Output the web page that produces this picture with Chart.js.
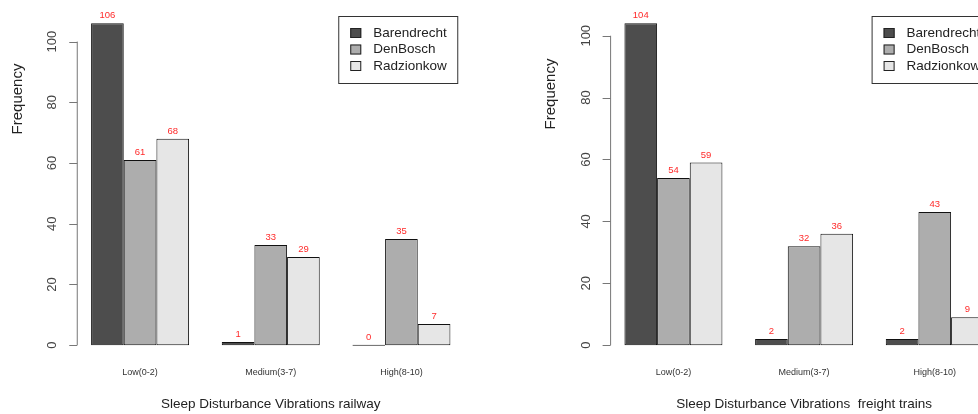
<!DOCTYPE html>
<html>
<head>
<meta charset="utf-8">
<script src="https://cdn.jsdelivr.net/npm/chart.js@4/dist/chart.umd.min.js"></script>
<style>
  html, body { margin: 0; padding: 0; background: #fff; }
  #wrap { position: relative; width: 978px; height: 414px; overflow: hidden; }
  #c1 { position: absolute; left: 0; top: 0; }
  #c2 { position: absolute; left: 489px; top: 0; }
</style>
</head>
<body>
<div id="wrap">
  <canvas id="c1" width="489" height="414"></canvas>
  <canvas id="c2" width="540" height="414"></canvas>
</div>
<script>
const categories = ['Low(0-2)', 'Medium(3-7)', 'High(8-10)'];
const towns = ['Barendrecht', 'DenBosch', 'Radzionkow'];
const townColors = ['#4d4d4d', '#adadad', '#e6e6e6'];
const yTicks = [0, 20, 40, 60, 80, 100];

// railway
const railBarendrecht = [106, 1, 0];
const railDenBosch = [61, 33, 35];
const railRadzionkow = [68, 29, 7];

// freight trains
const freightBarendrecht = [104, 2, 2];
const freightDenBosch = [54, 32, 43];
const freightRadzionkow = [59, 36, 9];

const FONT = '"Liberation Sans", Arial, sans-serif';

// R-style axis, labels, legend and value labels
const rStyle = {
  id: 'rStyle',
  afterDatasetsDraw(chart) {
    const ctx = chart.ctx;
    const y = chart.scales.y;
    const ca = chart.chartArea;
    const axisX = ca.left + 2;

    ctx.save();
    // y axis line and ticks
    ctx.strokeStyle = '#777';
    ctx.lineWidth = 1;
    ctx.beginPath();
    ctx.moveTo(axisX + 0.5, y.getPixelForValue(yTicks[0]));
    ctx.lineTo(axisX + 0.5, y.getPixelForValue(yTicks[yTicks.length - 1]));
    yTicks.forEach(t => {
      const py = Math.round(y.getPixelForValue(t)) + 0.5;
      ctx.moveTo(axisX + 0.5, py);
      ctx.lineTo(axisX - 7.5, py);
    });
    ctx.stroke();

    // tick labels, rotated like R
    ctx.fillStyle = '#444';
    ctx.font = '13px ' + FONT;
    ctx.textAlign = 'center';
    ctx.textBaseline = 'middle';
    yTicks.forEach(t => {
      ctx.save();
      ctx.translate(axisX - 24, y.getPixelForValue(t));
      ctx.rotate(-Math.PI / 2);
      ctx.fillText(String(t), 0, 0);
      ctx.restore();
    });

    // y title
    ctx.save();
    ctx.fillStyle = '#222';
    ctx.font = '15px ' + FONT;
    ctx.translate(axisX - 59, chart.options.plugins.rStyle.yTitleY);
    ctx.rotate(-Math.PI / 2);
    ctx.fillText('Frequency', 0, 0);
    ctx.restore();

    // value labels
    ctx.fillStyle = '#ff2a2a';
    ctx.font = '9.5px ' + FONT;
    ctx.textBaseline = 'alphabetic';
    chart.data.datasets.forEach((ds, i) => {
      chart.getDatasetMeta(i).data.forEach((bar, j) => {
        ctx.fillText(String(ds.data[j]), bar.x, y.getPixelForValue(ds.data[j]) - 5);
      });
    });

    // legend box
    const lx = ca.left + 263.5, ly = ca.top + 5.5;
    ctx.strokeStyle = '#333';
    ctx.fillStyle = '#fff';
    ctx.fillRect(lx, ly, 119, 67);
    ctx.strokeRect(lx + 0.5, ly + 0.5, 119, 67);
    ctx.font = '13.5px ' + FONT;
    ctx.textAlign = 'left';
    ctx.textBaseline = 'middle';
    chart.data.datasets.forEach((ds, i) => {
      const cy = ly + 17 + i * 16.5;
      ctx.fillStyle = ds.backgroundColor;
      ctx.fillRect(lx + 12, cy - 5, 11, 10);
      ctx.strokeStyle = '#222';
      ctx.strokeRect(lx + 12.5, cy - 4.5, 10, 9);
      ctx.fillStyle = '#222';
      ctx.fillText(ds.label, lx + 35, cy);
    });
    ctx.restore();
  }
};

function makeChart(id, series, title, padRight, padLeft, yTitleY) {
  const maxVal = Math.max(...series.flat());
  new Chart(document.getElementById(id), {
    type: 'bar',
    data: {
      labels: categories,
      datasets: series.map((vals, i) => ({
        label: towns[i],
        data: vals,
        backgroundColor: townColors[i],
        borderColor: '#111',
        borderWidth: 1,
        borderSkipped: false,
        minBarLength: 1,
        barPercentage: 1,
        categoryPercentage: 0.75
      }))
    },
    options: {
      responsive: false,
      animation: false,
      layout: { padding: { left: padLeft, right: padRight, top: 10.5, bottom: 0 } },
      plugins: {
        legend: { display: false },
        tooltip: { enabled: false },
        rStyle: { yTitleY: yTitleY }
      },
      scales: {
        x: {
          grid: { display: false, drawTicks: false },
          border: { display: false },
          ticks: { color: '#333', font: { size: 9, family: FONT }, padding: 9 },
          title: {
            display: true,
            text: title,
            color: '#222',
            font: { size: 13.5, family: FONT },
            padding: { top: 0, bottom: 2 }
          },
          afterFit: s => { s.height = 56; }
        },
        y: {
          display: false,
          min: -0.04 * maxVal,
          max: 1.04 * maxVal
        }
      }
    },
    plugins: [rStyle]
  });
}

makeChart('c1', [railBarendrecht, railDenBosch, railRadzionkow],
  'Sleep Disturbance Vibrations railway', 22.25, 74.75, 99);
makeChart('c2', [freightBarendrecht, freightDenBosch, freightRadzionkow],
  'Sleep Disturbance Vibrations  freight trains', 28.9, 119.1, 94);
</script>
</body>
</html>
